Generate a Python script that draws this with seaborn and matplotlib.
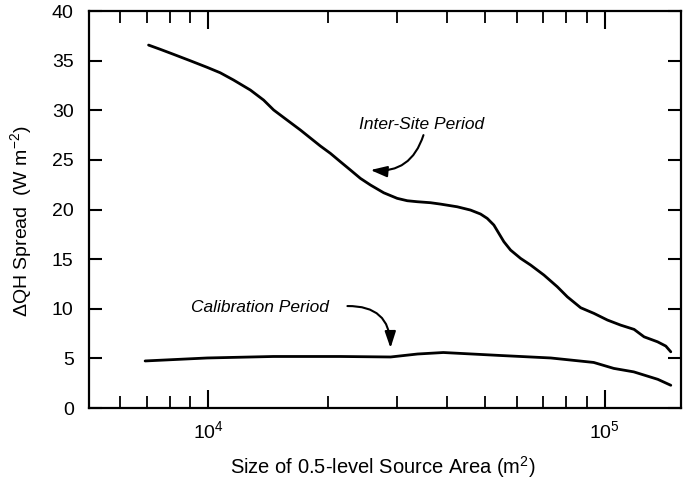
import numpy as np
import pandas as pd
import matplotlib
matplotlib.use('Agg')
import matplotlib.pyplot as plt
import seaborn as sns

# ── DATA ──────────────────────────────────────────────
inter_area = [7070, 7570, 8170, 9010, 9930, 10720, 11580, 12770, 13790,
              14620, 15800, 17080, 19180, 20330, 21540, 22840, 24200, 25660,
              27710, 29960, 31760, 33650, 36360, 38540, 42460, 45860, 48620,
              50550, 52530, 54080, 55680, 57880, 61360, 65040, 70270, 75950,
              80490, 86980, 93970, 101600, 109700, 118600, 125700, 135900,
              142600, 146800]
inter_spread = [36.57, 36.14, 35.64, 34.99, 34.33, 33.78, 33.05, 32.04, 31.03,
                30.03, 29.02, 28.01, 26.40, 25.66, 24.82, 23.98, 23.14, 22.47,
                21.69, 21.13, 20.89, 20.79, 20.69, 20.55, 20.28, 19.95, 19.55,
                19.11, 18.44, 17.60, 16.76, 15.92, 15.08, 14.41, 13.40, 12.22,
                11.21, 10.11, 9.54, 8.87, 8.36, 7.93, 7.18, 6.68,
                6.25, 5.67]

calib_area = [6930, 9940, 14590, 21540, 28840, 33730, 39170, 54600, 73100,
              93800, 105400, 118400, 136100, 146800]
calib_spread = [4.75, 5.05, 5.2, 5.2, 5.15, 5.45, 5.6, 5.3, 5.05,
                4.6, 4.0, 3.65, 2.9, 2.3]

y_ticks = [0, 5, 10, 15, 20, 25, 30, 35, 40]

df = pd.concat([
    pd.DataFrame({'area': inter_area, 'spread': inter_spread, 'period': 'Inter-Site Period'}),
    pd.DataFrame({'area': calib_area, 'spread': calib_spread, 'period': 'Calibration Period'}),
])

# ── STYLE ─────────────────────────────────────────────
sns.set_style('ticks')
plt.rcParams['font.family'] = ['Liberation Sans', 'DejaVu Sans']
plt.rcParams['mathtext.fontset'] = 'custom'
plt.rcParams['mathtext.rm'] = 'Liberation Sans'
plt.rcParams['mathtext.it'] = 'Liberation Sans:italic'
plt.rcParams['text.color'] = 'black'
plt.rcParams['axes.labelcolor'] = 'black'
plt.rcParams['axes.edgecolor'] = 'black'
plt.rcParams['xtick.color'] = 'black'
plt.rcParams['ytick.color'] = 'black'

fig = plt.figure(figsize=(6.84, 4.79), dpi=100)
ax = fig.add_axes([0.130, 0.148, 0.866, 0.829])

sns.lineplot(data=df, x='area', y='spread', hue='period',
             palette=['black', 'black'], linewidth=2.0, legend=False,
             estimator=None, sort=True, ax=ax)

ax.set_xscale('log')
ax.set_xlim(5000, 1.56e5)
ax.set_ylim(0, 40)
ax.set_yticks(y_ticks)

ax.tick_params(axis='x', which='major', direction='in', length=13, width=1.5,
               top=True, labelsize=14, pad=9)
ax.tick_params(axis='x', which='minor', direction='in', length=8.5, width=1.3,
               top=True)
ax.tick_params(axis='y', which='major', direction='in', length=9.5, width=1.5,
               right=True, labelsize=14, pad=11)
for s in ax.spines.values():
    s.set_linewidth(1.6)
    s.set_visible(True)

ax.set_xlabel('Size of 0.5-level Source Area (m$^2$)', fontsize=14.5)
ax.set_ylabel(r'$\Delta$QH Spread  (W m$^{-2}$)', fontsize=14)
ax.xaxis.set_label_coords(0.497, -0.115)
ax.yaxis.set_label_coords(-0.092, 0.471)

# ── ANNOTATIONS ───────────────────────────────────────
arrow = '-|>,head_length=0.9,head_width=0.3'
ax.text(34500, 28.6, 'Inter-Site Period', fontsize=12.5, style='italic',
        ha='center', va='center')
ax.annotate('', xy=(25660, 23.98), xytext=(34900, 27.5),
            arrowprops=dict(arrowstyle=arrow, color='black', lw=1.5,
                            connectionstyle='arc3,rad=-0.4',
                            shrinkA=0, shrinkB=0, mutation_scale=11))
ax.text(13520, 10.18, 'Calibration Period', fontsize=12.5, style='italic',
        ha='center', va='center')
ax.annotate('', xy=(28820, 6.05), xytext=(22440, 10.28),
            arrowprops=dict(arrowstyle=arrow, color='black', lw=1.5,
                            connectionstyle='arc3,rad=-0.5',
                            shrinkA=0, shrinkB=0, mutation_scale=11))

fig.savefig('out.png', dpi=100)
